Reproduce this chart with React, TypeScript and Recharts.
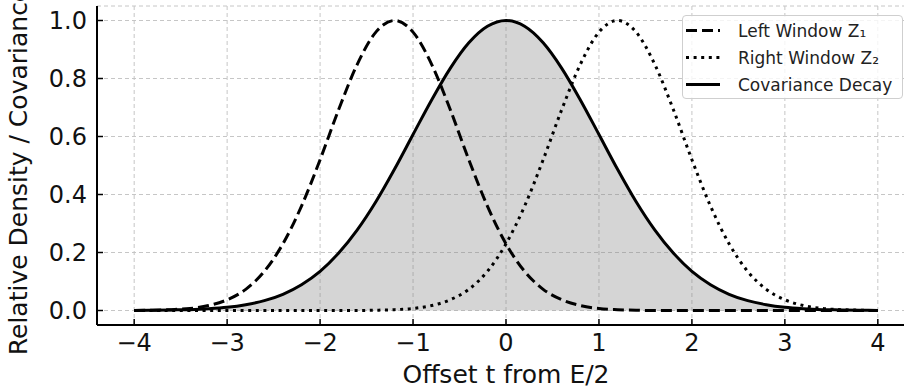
import React from 'react';
import { Area, CartesianGrid, ComposedChart, Legend, Line, XAxis, YAxis } from 'recharts';

// offset t, sampled every 0.2
const tValues = [
  -4, -3.8, -3.6, -3.4, -3.2, -3, -2.8, -2.6, -2.4, -2.2, -2, -1.8, -1.6, -1.4, -1.2, -1, -0.8, -0.6, -0.4, -0.2,
  0, 0.2, 0.4, 0.6, 0.8, 1, 1.2, 1.4, 1.6, 1.8, 2, 2.2, 2.4, 2.6, 2.8, 3, 3.2, 3.4, 3.6, 3.8, 4,
];

// left window Z1 (peak near -1.2)
const leftWindow = [
  0.0, 0.001, 0.003, 0.007, 0.017, 0.037, 0.073, 0.135, 0.23, 0.36, 0.52, 0.693, 0.849, 0.96, 1.0, 0.96, 0.849, 0.693, 0.52, 0.36,
  0.23, 0.135, 0.073, 0.037, 0.017, 0.007, 0.003, 0.001, 0, 0, 0, 0, 0, 0, 0, 0, 0, 0, 0, 0, 0,
];

// right window Z2 (peak near +1.2)
const rightWindow = [
  0, 0, 0, 0, 0, 0, 0, 0, 0, 0, 0, 0, 0, 0.001, 0.003, 0.007, 0.017, 0.037, 0.073, 0.135,
  0.23, 0.36, 0.52, 0.693, 0.849, 0.96, 1.0, 0.96, 0.849, 0.693, 0.52, 0.36, 0.23, 0.135, 0.073, 0.037, 0.017, 0.007, 0.003, 0.001, 0.0,
];

// covariance decay (shaded)
const covariance = [
  0.0, 0.001, 0.002, 0.003, 0.006, 0.011, 0.02, 0.034, 0.056, 0.089, 0.135, 0.198, 0.278, 0.375, 0.487, 0.607, 0.726, 0.835, 0.923, 0.98,
  1.0, 0.98, 0.923, 0.835, 0.726, 0.607, 0.487, 0.375, 0.278, 0.198, 0.135, 0.089, 0.056, 0.034, 0.02, 0.011, 0.006, 0.003, 0.002, 0.001, 0.0,
];

const xTicks = [-4, -3, -2, -1, 0, 1, 2, 3, 4];
const yTicks = [0, 0.2, 0.4, 0.6, 0.8, 1.0];

const legendItems = [
  { key: 'left', name: 'Left Window Z\u2081', dash: '11 5' },
  { key: 'right', name: 'Right Window Z\u2082', dash: '3 4.6' },
  { key: 'cov', name: 'Covariance Decay', dash: undefined },
];

const data = tValues.map((t, i) => ({
  t,
  left: leftWindow[i],
  right: rightWindow[i],
  cov: covariance[i],
}));

const FONT = '"DejaVu Sans", sans-serif';
const fmtX = (v: number) => (v < 0 ? `\u2212${Math.abs(v)}` : `${v}`);

const LegendBox = () => (
  <div
    style={{
      position: 'relative',
      width: 221,
      height: 84,
      boxSizing: 'border-box',
      border: '1px solid #cfcfcf',
      borderRadius: 4,
      background: 'rgba(255,255,255,0.8)',
      fontFamily: FONT,
      fontSize: 17,
      color: '#222',
    }}
  >
    {legendItems.map((s, i) => (
      <div
        key={s.key}
        style={{ position: 'absolute', left: 0, top: 1 + i * 27, height: 27, display: 'flex', alignItems: 'center', whiteSpace: 'nowrap' }}
      >
        <svg width={55} height={27} style={{ display: 'block' }}>
          <line x1={3} x2={37} y1={13.5} y2={13.5} stroke="#000" strokeWidth={3} strokeDasharray={s.dash} />
        </svg>
        <span>{s.name}</span>
      </div>
    ))}
  </div>
);

export default function App() {
  return (
    <div style={{ position: 'absolute', left: 0, top: 0, width: 904, height: 389, overflow: 'hidden', background: '#fff' }}>
      <div style={{ position: 'absolute', left: 0, top: -40 }}>
        <ComposedChart width={915} height={429} data={data} margin={{ top: 46, right: 0, bottom: 0, left: 0 }}>
          <CartesianGrid stroke="#c6c6c6" strokeDasharray="4 3" strokeWidth={1} />
          <XAxis
            type="number"
            dataKey="t"
            domain={[-4.4, 4.4]}
            allowDataOverflow
            ticks={xTicks}
            interval={0}
            tickFormatter={fmtX}
            height={64}
            tickSize={-6}
            tickMargin={15}
            axisLine={{ stroke: '#000', strokeWidth: 2 }}
            tickLine={{ stroke: '#000', strokeWidth: 1.5 }}
            tick={{ fontSize: 24, fill: '#111', fontFamily: FONT }}
            label={{ value: 'Offset t from E/2', position: 'insideBottom', offset: 6, fontSize: 25, fill: '#111', fontFamily: FONT }}
          />
          <YAxis
            type="number"
            domain={[-0.05, 1.05]}
            allowDataOverflow
            ticks={yTicks}
            interval={0}
            tickFormatter={(v: number) => v.toFixed(1)}
            width={97}
            tickSize={-6}
            tickMargin={16}
            axisLine={{ stroke: '#000', strokeWidth: 2 }}
            tickLine={{ stroke: '#000', strokeWidth: 1.5 }}
            tick={{ fontSize: 24, fill: '#111', fontFamily: FONT }}
          />
          <Area
            type="monotone"
            dataKey="cov"
            name="Covariance Decay"
            baseValue={0}
            stroke="#000"
            strokeWidth={3}
            fill="#808080"
            fillOpacity={0.33}
            dot={false}
            activeDot={false}
            isAnimationActive={false}
          />
          <Line
            type="monotone"
            dataKey="left"
            name="Left Window Z1"
            stroke="#000"
            strokeWidth={3}
            strokeDasharray="11 5"
            dot={false}
            activeDot={false}
            isAnimationActive={false}
          />
          <Line
            type="monotone"
            dataKey="right"
            name="Right Window Z2"
            stroke="#000"
            strokeWidth={3}
            strokeDasharray="3 4.6"
            dot={false}
            activeDot={false}
            isAnimationActive={false}
          />
          <Legend
            layout="vertical"
            align="center"
            verticalAlign="middle"
            content={<LegendBox />}
            wrapperStyle={{ top: 55, left: 682, width: 221, height: 84 }}
          />
          {/* title sits mostly above the cropped frame */}
          <text x={506} y={34} textAnchor="middle" fontSize={31} fontFamily={FONT} fill="#111">
            Overlapping Windows and Covariance
          </text>
          <text x={27} y={211} textAnchor="middle" fontSize={25} fontFamily={FONT} fill="#111" transform="rotate(-90 27 211)">
            Relative Density / Covariance
          </text>
        </ComposedChart>
      </div>
    </div>
  );
}
